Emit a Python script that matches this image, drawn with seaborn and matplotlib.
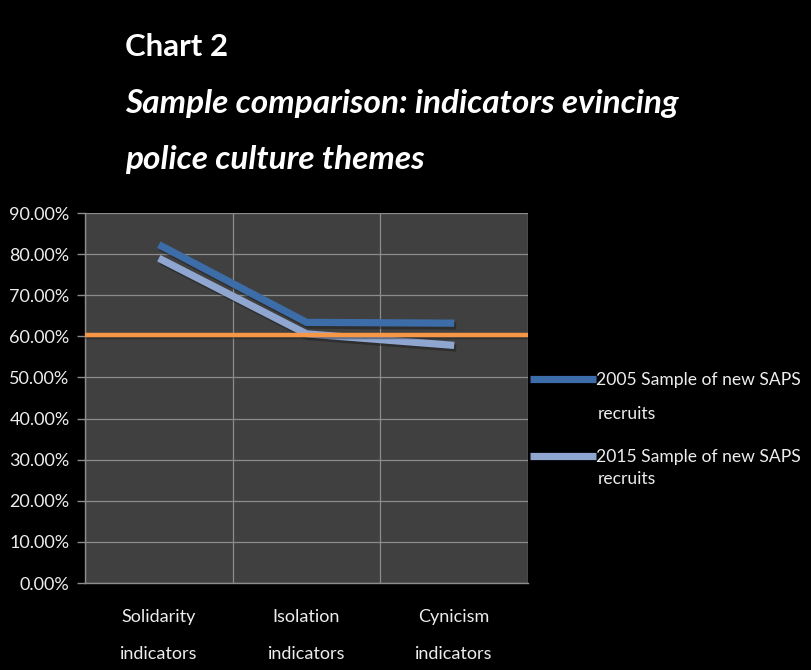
import numpy as np
import pandas as pd
import matplotlib
matplotlib.use("Agg")
import matplotlib.pyplot as plt
import matplotlib.patheffects as pe
from matplotlib.lines import Line2D
import seaborn as sns

categories = ["Solidarity\nindicators", "Isolation\nindicators", "Cynicism\nindicators"]
series_2005 = [0.823, 0.634, 0.632]
series_2015 = [0.790, 0.606, 0.578]
threshold = 0.604
series_names = ["2005 Sample of new SAPS", "2015 Sample of new SAPS"]
y_ticks = [0.0, 0.1, 0.2, 0.3, 0.4, 0.5, 0.6, 0.7, 0.8, 0.9]

df = pd.DataFrame({
    "x": list(range(len(categories))) * 2,
    "value": series_2005 + series_2015,
    "series": [series_names[0]] * 3 + [series_names[1]] * 3,
})

sns.set_theme(style="dark")
plt.rcParams['font.family'] = ['Lato', 'DejaVu Sans']

FS = 13
LFS = 12.6
TXT = "#EDEDED"
fig = plt.figure(figsize=(8.11, 6.70), dpi=100, facecolor="black")
ax = fig.add_axes([85 / 811, 1 - 583 / 670, (528 - 85) / 811, (583 - 213) / 670])
ax.set_facecolor("#404040")

palette = {series_names[0]: "#3D6DA9", series_names[1]: "#8FA6D0"}
sns.lineplot(data=df, x="x", y="value", hue="series", palette=palette,
             linewidth=5.2, ax=ax, legend=False, sort=False)
for ln in ax.get_lines():
    ln.set_path_effects([pe.SimpleLineShadow(offset=(1.5, -2), alpha=0.45), pe.Normal()])
    ln.set_solid_capstyle("butt")

ax.axhline(threshold, color="#F79646", linewidth=3.2, zorder=5,
           path_effects=[pe.SimpleLineShadow(offset=(1, -2), alpha=0.4), pe.Normal()])

ax.set_xlim(-0.5, 2.5)
ax.set_ylim(0, 0.9)
ax.set_yticks(y_ticks)
ax.set_yticklabels([f"{v*100:.2f}%" for v in y_ticks])
ax.set_xticks(range(len(categories)))
ax.set_xticklabels(categories, linespacing=2.62)
ax.set_xticks([-0.5, 0.5, 1.5, 2.5], minor=True)
ax.tick_params(axis="x", which="major", length=0, pad=19, labelsize=FS, colors=TXT)
ax.tick_params(axis="x", which="minor", length=7, width=1, color="#8C8C8C", direction="out")
ax.tick_params(axis="y", which="major", length=6, width=1, pad=5,
               labelsize=FS, colors=TXT, direction="out", left=True)
ax.tick_params(axis="y", which="major", color="#8C8C8C")
ax.xaxis.grid(True, which="minor", color="#8C8C8C", linewidth=0.9)
ax.xaxis.grid(False, which="major")
ax.yaxis.grid(True, which="major", color="#8C8C8C", linewidth=0.9)
ax.set_axisbelow(True)
ax.set_xlabel("")
ax.set_ylabel("")
for s in ["top", "right"]:
    ax.spines[s].set_visible(False)
for s in ["left", "bottom"]:
    ax.spines[s].set_visible(True)
    ax.spines[s].set_color("#8C8C8C")
    ax.spines[s].set_linewidth(1)

# legend
handles = [Line2D([0], [0], color=palette[n], linewidth=5.2, solid_capstyle="butt")
           for n in series_names]
leg = fig.legend(handles, series_names, loc="upper left",
                 bbox_to_anchor=(523 / 811, 1 - 365 / 670), frameon=False,
                 handlelength=3.75, handletextpad=0.05, labelspacing=3.5,
                 borderaxespad=0, fontsize=LFS, labelcolor=TXT)
fig.text(598 / 811, 1 - 414 / 670, "recruits", color=TXT, fontsize=LFS, va="center")
fig.text(598 / 811, 1 - 479 / 670, "recruits", color=TXT, fontsize=LFS, va="center")

# titles
fig.text(125 / 811, 1 - 47 / 670, "Chart 2", color="white", fontsize=22.5,
         fontweight="bold", va="center")
fig.text(125 / 811, 1 - 103 / 670, "Sample comparison: indicators evincing", color="white",
         fontsize=24, fontweight="bold", fontstyle="italic", va="center")
fig.text(125 / 811, 1 - 160 / 670, "police culture themes", color="white",
         fontsize=24, fontweight="bold", fontstyle="italic", va="center")

fig.savefig("out.png", dpi=100, facecolor="black")
